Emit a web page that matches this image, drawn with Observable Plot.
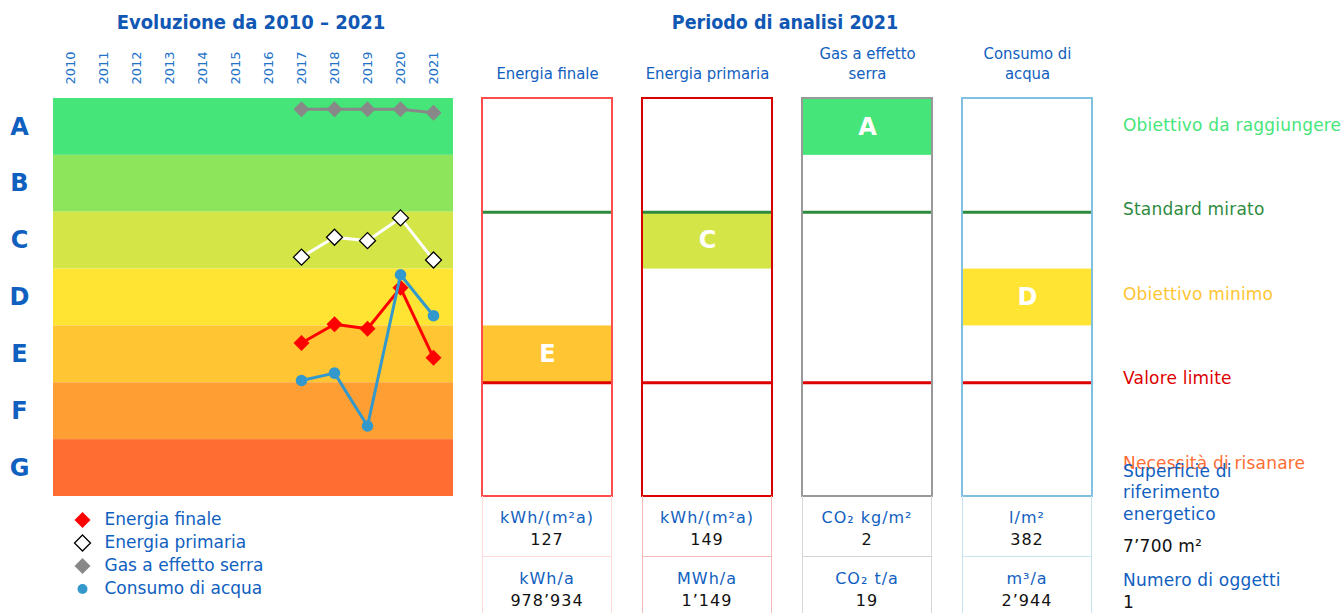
<!DOCTYPE html>
<html><head><meta charset="utf-8">
<script src="https://cdn.jsdelivr.net/npm/d3@7"></script>
<script src="https://cdn.jsdelivr.net/npm/@observablehq/plot@0.6"></script>
<style>
body{margin:0;background:#fff;}
#root{position:relative;width:1343px;height:613px;overflow:hidden;font-family:"DejaVu Sans",sans-serif;}
.abs{position:absolute;white-space:nowrap;}
.title{font-family:"Liberation Sans Narrow","DejaVu Sans Condensed","Open Sans",sans-serif;font-weight:bold;color:#1158b4;text-align:center;transform:translate(-50%,-50%);}
.lbl{font-size:17px;letter-spacing:0.2px;line-height:20px;transform:translateY(-50%);}
.cell{box-sizing:border-box;text-align:center;font-size:16px;letter-spacing:1px;}
svg{overflow:visible;}
</style></head><body><div id="root"></div>
<script>
// ---------- data ----------
const blue = "#1060c0";
const years = [2010, 2011, 2012, 2013, 2014, 2015, 2016, 2017, 2018, 2019, 2020, 2021];
const dataYears = [2017, 2018, 2019, 2020, 2021];
// values in class units (0 = top of A, 7 = bottom of G)
const energiaFinale   = [4.30, 3.97, 4.05, 3.33, 4.56];
const energiaPrimaria = [2.79, 2.44, 2.50, 2.10, 2.84];
const gasSerra        = [0.19, 0.19, 0.19, 0.19, 0.25];
const consumoAcqua    = [4.96, 4.83, 5.76, 3.10, 3.82];

const classes = ["A", "B", "C", "D", "E", "F", "G"];
const classColors = ["#46e57a", "#8de55c", "#d4e547", "#ffe433", "#ffc533", "#ff9f33", "#ff6d33"];

const seriesNames = ["Energia finale", "Energia primaria", "Gas a effetto serra", "Consumo di acqua"];
const seriesValues = [energiaFinale, energiaPrimaria, gasSerra, consumoAcqua];
const seriesLineColor = ["#ff0000", "#ffffff", "#888888", "#3399cc"];
const seriesMarkFill = ["#ff0000", "#ffffff", "#888888", "#3399cc"];
const seriesMarkStroke = ["none", "#000000", "none", "none"];
const seriesSymbol = ["diamond2", "diamond2", "diamond2", "circle"];
const drawOrder = [2, 1, 0, 3];

const indicators = ["Energia finale", "Energia primaria", "Gas a effetto serra", "Consumo di acqua"];
const indicatorHeaders = ["Energia finale", "Energia primaria", "Gas a effetto\nserra", "Consumo di\nacqua"];
const indicatorClass = ["E", "C", "A", "D"];
const indicatorBorder = ["#ff4d4d", "#d90000", "#999999", "#80c0e0"];
const tableBorder = ["#ffd8d8", "#f2b9b9", "#d6d6d6", "#c8e3f0"];
const units1 = ["kWh/(m²a)", "kWh/(m²a)", "CO₂ kg/m²", "l/m²"];
const values1 = ["127", "149", "2", "382"];
const units2 = ["kWh/a", "MWh/a", "CO₂ t/a", "m³/a"];
const values2 = ["978’934", "1’149", "19", "2’944"];

const targetLabels = ["Obiettivo da raggiungere", "Standard mirato", "Obiettivo minimo", "Valore limite", "Necessità di risanare"];
const targetColors = ["#46e57a", "#2e8b3e", "#ffc533", "#dd0000", "#ff6d33"];
const targetLevels = [0.47, 1.96, 3.45, 4.93, 6.42];
const targetLines = [2, 5];
const targetLineColors = ["#2e8b3e", "#dd0000"];

const infoTexts = ["Superficie di", "riferimento", "energetico", "7’700 m²", "Numero di oggetti", "1"];
const infoColors = [blue, blue, blue, "#111", blue, "#111"];

// ---------- derived tables ----------
const classRows = classes.map((c, i) => ({cls: c, i0: i, i1: i + 1, mid: i + 0.5, color: classColors[i]}));
const points = drawOrder.flatMap(s => dataYears.map((yr, j) => ({s, name: seriesNames[s], year: yr, v: seriesValues[s][j]})));
const indRows = indicators.map((n, k) => {
  const ci = classes.indexOf(indicatorClass[k]);
  return {name: n, header: indicatorHeaders[k], cls: indicatorClass[k], c0: ci, c1: ci + 1, cmid: ci + 0.5,
          color: classColors[ci], border: indicatorBorder[k]};
});

const root = document.getElementById("root");
function place(el, left, top) { const d = document.createElement("div"); d.className = "abs"; d.style.left = left + "px"; d.style.top = top + "px"; d.appendChild(el); root.appendChild(d); return d; }

// ---------- left chart ----------
const seriesMarks = drawOrder.flatMap(s => {
  const pts = points.filter(p => p.s === s);
  return [
    Plot.line(pts, {x: "year", y: "v", stroke: seriesLineColor[s], strokeWidth: 3}),
    Plot.dot(pts, {x: "year", y: "v", symbol: seriesSymbol[s], r: s === 3 ? 5.8 : 7.2,
      fill: seriesMarkFill[s], stroke: seriesMarkStroke[s], strokeWidth: 1.3})
  ];
});
const left = Plot.plot({
  width: 460, height: 500, marginLeft: 53, marginRight: 7, marginTop: 98, marginBottom: 4,
  x: {type: "point", domain: years, padding: 0, insetLeft: 17, insetRight: 20},
  y: {domain: [0, 7], reverse: true, axis: null},
  style: {fontFamily: "DejaVu Sans", background: "transparent"},
  marks: [
    Plot.rect(classRows, {y1: "i0", y2: "i1", fill: "color"}),
    Plot.axisX({anchor: "top", label: null, tickRotate: -90, tickSize: 0, tickPadding: 14, fontSize: 13, fill: "#2272c8", tickFormat: d => String(d)}),
    Plot.text(classRows, {y: "mid", text: "cls", frameAnchor: "left", textAnchor: "middle", dx: -34, fontSize: 24, fontWeight: "bold", fill: blue}),
    ...seriesMarks
  ]
});
place(left, 0, 0);

// ---------- right boxes ----------
const boxes = Plot.plot({
  width: 630, height: 500, marginLeft: 11, marginRight: 7, marginTop: 98, marginBottom: 4,
  fx: {domain: indicators, paddingInner: 0.187, paddingOuter: 0, axis: null},
  y: {domain: [0, 7], reverse: true, axis: null},
  style: {fontFamily: "DejaVu Sans", background: "transparent"},
  marks: [
    Plot.rect(indRows, {fx: "name", y1: "c0", y2: "c1", fill: "color"}),
    ...targetLines.map((t, k) => Plot.ruleY([t], {stroke: targetLineColors[k], strokeWidth: 3})),
    Plot.rect(indRows, {fx: "name", y1: 0, y2: 7, fill: "none", stroke: "border", strokeWidth: 2}),
    Plot.text(indRows, {fx: "name", y: "cmid", text: "cls", fill: "white", fontSize: 24, fontWeight: "bold"}),
    Plot.text(indRows, {fx: "name", text: "header", frameAnchor: "top", lineAnchor: "bottom", dy: -20, lineHeight: 1.2,
      fontSize: 16.5, fill: blue, fontFamily: "Liberation Sans Narrow, DejaVu Sans Condensed, Open Sans, sans-serif"})
  ]
});
place(boxes, 470, 0);
const fx = boxes.scale("fx");

// ---------- table below boxes ----------
indicators.forEach((n, k) => {
  const x0 = 470 + fx.apply(n);
  const w = fx.bandwidth;
  const mk = (top, h, u, v, bottom) => {
    const c = document.createElement("div");
    c.className = "cell";
    c.style.width = w + "px"; c.style.height = h + "px";
    c.style.borderLeft = c.style.borderRight = "1px solid " + tableBorder[k];
    if (bottom) c.style.borderBottom = "1px solid " + tableBorder[k];
    c.innerHTML = `<div style="color:${blue};position:absolute;left:0;right:0;top:12px;line-height:20px">${u}</div>` +
                  `<div style="color:#111;position:absolute;left:0;right:0;top:34px;line-height:20px">${v}</div>`;
    c.style.position = "relative";
    place(c, x0, top);
  };
  mk(496, 61, units1[k], values1[k], true);
  mk(557, 60, units2[k], values2[k], false);
});

// ---------- titles ----------
function title(text, cx, cy, size) {
  const t = document.createElement("div"); t.className = "title"; t.style.fontSize = size + "px"; t.textContent = text;
  return place(t, cx, cy);
}
title("Evoluzione da 2010 – 2021", 251, 22, 20);
title("Periodo di analisi 2021", 785, 22, 19.5);

// ---------- right side labels ----------
const yScale = boxes.scale("y");
targetLabels.forEach((t, k) => {
  const e = document.createElement("div"); e.className = "lbl"; e.style.color = targetColors[k]; e.textContent = t;
  place(e, 1123, yScale.apply(targetLevels[k]));
});
const infoY = [471, 492, 514, 546, 580, 602];
infoTexts.forEach((t, k) => {
  const e = document.createElement("div"); e.className = "lbl"; e.style.color = infoColors[k]; e.textContent = t;
  place(e, 1123, infoY[k]);
});

// ---------- legend ----------
const legendRows = seriesNames.map((n, s) => ({name: n, s}));
const legend = Plot.plot({
  width: 300, height: 100, marginTop: 2.5, marginBottom: 5.5, marginLeft: 0, marginRight: 0,
  y: {type: "band", domain: seriesNames, padding: 0, axis: null},
  style: {fontFamily: "DejaVu Sans", background: "transparent"},
  marks: [
    ...legendRows.map(r => Plot.dot([r], {y: "name", frameAnchor: "left", dx: 82, symbol: seriesSymbol[r.s], r: r.s === 3 ? 5 : 7.2,
      fill: seriesMarkFill[r.s], stroke: seriesMarkStroke[r.s], strokeWidth: 1.3})),
    Plot.text(legendRows, {y: "name", text: "name", frameAnchor: "left", dx: 104, textAnchor: "start", fontSize: 17, fill: blue, letterSpacing: "0.2px"})
  ]
});
place(legend, 0, 505);
</script></body></html>
